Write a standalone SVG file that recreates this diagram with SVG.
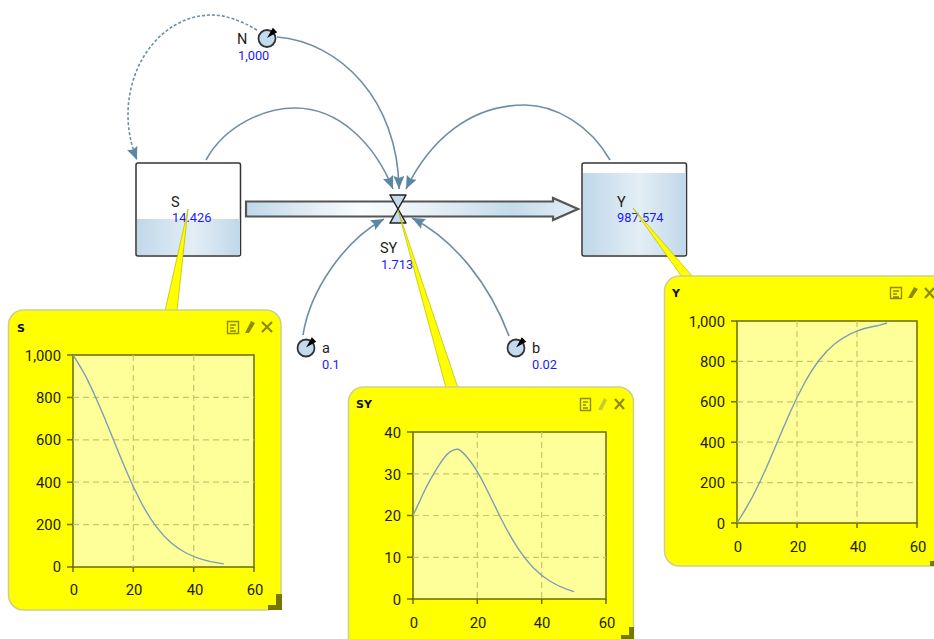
<svg xmlns="http://www.w3.org/2000/svg" width="934" height="639" viewBox="0 0 934 639">
<style>
text{font-family:Roboto,"Noto Sans",sans-serif}
.nm{font-size:14.500px;fill:#222}
.val{font-size:12.800px;fill:#1a1aff}
.tick{font-size:14.800px;fill:#1c1c00}
.ty{text-anchor:end}
.tx{text-anchor:middle}
.title{font-family:"DejaVu Sans",sans-serif;font-size:11px;font-weight:bold;fill:#111}
.win{fill:#ffff00;stroke:#cfcf90;stroke-width:1.5}
.plot{fill:#ffff99;stroke:#6b6b00;stroke-width:1.5}
.grid{stroke:#c6c670;stroke-width:1.2;stroke-dasharray:6 4;fill:none}
.axt{stroke:#6b6b00;stroke-width:1.5;fill:none}
.curve{fill:none;stroke:#7a9fb4;stroke-width:1.4;stroke-linejoin:round}
.link{fill:none;stroke:#6d8ea5;stroke-width:1.6;marker-end:url(#ah)}
.dash{stroke-dasharray:3 2}
.stock{fill:#fff;stroke:#333;stroke-width:1.5}
.call{fill:#ffff00;stroke:#b8b800;stroke-width:.7}
.icon{fill:none;stroke:#8c8c00;stroke-width:1.4}
.grip{fill:#777700}
.aux{fill:#c3dbee;stroke:#333;stroke-width:1.8}
.valve{fill:#c3dbee;stroke:#222;stroke-width:1.5;stroke-linejoin:round}
</style>
<defs>
<marker id="ah" markerUnits="userSpaceOnUse" markerWidth="14" markerHeight="12" refX="13" refY="5.500" orient="auto">
<path d="M0,0 L13,5.500 L0,11 L2,5.500 Z" fill="#5c86a3"/>
</marker>
<linearGradient id="tank" x1="0" x2="1" y1="0" y2="0">
<stop offset="0" stop-color="#c0d8e9"/><stop offset=".55" stop-color="#e3eef6"/><stop offset="1" stop-color="#c0d8e9"/>
</linearGradient>
<linearGradient id="pipe" gradientUnits="userSpaceOnUse" x1="246" x2="578" y1="0" y2="0">
<stop offset="0" stop-color="#c0d8e9"/><stop offset=".35" stop-color="#fbfdfe"/><stop offset=".52" stop-color="#eaf2f8"/><stop offset=".8" stop-color="#c4dbeb"/><stop offset="1" stop-color="#e3eef6"/>
</linearGradient>
</defs>

<g id="stock-S">
<rect class="stock" x="136" y="163" width="104.500" height="93" rx="2"/>
<rect x="137" y="219" width="103" height="36" fill="url(#tank)"/>
<text class="nm" x="171" y="207">S</text>
<text class="val" x="172" y="222">14.426</text>
</g>
<g id="stock-Y">
<rect class="stock" x="582" y="163" width="104.500" height="93" rx="2"/>
<rect x="583" y="173" width="103" height="82" fill="url(#tank)"/>
<text class="nm" x="617" y="207">Y</text>
<text class="val" x="617" y="222">987.574</text>
</g>
<g id="flow-SY">
<path d="M246,201.500 H553 V198 L578,209 L553,220 V216.500 H246 Z" fill="url(#pipe)" stroke="#555" stroke-width="2.200" stroke-linejoin="miter"/>
<path class="valve" d="M390,195 H406 L390,223 H406 Z"/>
<text class="nm" x="380" y="253">SY</text>
<text class="val" x="381" y="269">1.713</text>
</g>
<g id="connectors">
<path class="link dash" d="M257,30 C240,20 225,15 212,15 C165,15 128,60 128,115 C128,130 131,145 137,160"/>
<path class="link" d="M277,37 C340,42 398,100 399,189"/>
<path class="link" d="M206,160 C225,125 265,108 295,108 C340,108 375,145 393,189"/>
<path class="link" d="M610,160 C590,125 555,105 525,105 C470,105 430,140 406,189"/>
<path class="link" d="M303,335 C310,290 345,240 384,219"/>
<path class="link" d="M509,336 C490,285 455,240 412,218"/>
</g>
<g id="aux-N">
<circle class="aux" cx="267" cy="38.500" r="8.500"/>
<path d="M269,36 L273,29 L276,32 Z" fill="#000" stroke="#000" stroke-width="1.500"/>
<text class="nm" x="237" y="44">N</text>
<text class="val" x="238" y="60">1,000</text>
</g>
<g id="aux-a">
<circle class="aux" cx="306" cy="348" r="8.500"/>
<path d="M308,345.500 L312,338.500 L315,341.500 Z" fill="#000" stroke="#000" stroke-width="1.500"/>
<text class="nm" x="322" y="353">a</text>
<text class="val" x="322" y="369">0.1</text>
</g>
<g id="aux-b">
<circle class="aux" cx="516" cy="348" r="8.500"/>
<path d="M518,345.500 L522,338.500 L525,341.500 Z" fill="#000" stroke="#000" stroke-width="1.500"/>
<text class="nm" x="532" y="353">b</text>
<text class="val" x="532" y="369">0.02</text>
</g>

<g id="chart-S">
<path class="call" d="M188,209 L177,311 H165 Z"/>
<rect class="win" x="8.500" y="310" width="272.500" height="300" rx="15"/>
<path class="grip" d="M268,610 V605 H276 V594 H282 V610 Z"/>
<text class="title" x="17" y="332">S</text>
<path class="icon" d="M227.500,321.500 H238.500 V333.500 H227.500 Z M230,325 H236 M230,328 H234 M230,331 H236"/>
<path d="M245,333 L251,321 L255,323 L249,333 Z M252,333 H256" fill="#8c8c00"/>
<path d="M262,322 L272,332 M272,322 L262,332" stroke="#8c8c00" stroke-width="2.200" fill="none"/>
<rect class="plot" x="73" y="355" width="181" height="212"/>
<path class="grid" d="M133.300,355 V567 M193.700,355 V567 M73,397.400 H254 M73,439.800 H254 M73,482.200 H254 M73,524.600 H254"/>
<path class="axt" d="M67,355 H73 M67,397.400 H73 M67,439.800 H73 M67,482.200 H73 M67,524.600 H73 M67,567 H73 M73,567 V572 M133.300,567 V572 M193.700,567 V572 M254,567 V572"/>
<path class="curve" d="M73,355 L76.700,360.800 Q80.500,366.700 84.300,373.600 Q88.100,380.500 95.600,397.300 Q103.200,414.100 110.700,433 Q118.300,451.900 125.800,469.700 Q133.300,487.600 140.900,502 Q148.400,516.300 156,526.400 Q163.500,536.400 171,542.800 Q178.600,549.200 186.100,553 Q193.700,556.900 201.200,559.100 Q208.800,561.400 216.300,562.600 L223.800,563.900"/>
<g class="tick">
<text class="ty" x="61" y="361">1,000</text><text class="ty" x="61" y="403">800</text><text class="ty" x="61" y="445">600</text><text class="ty" x="61" y="488">400</text><text class="ty" x="61" y="530">200</text><text class="ty" x="61" y="572">0</text>
<text class="tx" x="74" y="595">0</text><text class="tx" x="134" y="595">20</text><text class="tx" x="195" y="595">40</text><text class="tx" x="255" y="595">60</text>
</g>
</g>

<g id="chart-SY">
<path class="call" d="M398,210 L458,388 H446 Z"/>
<rect class="win" x="348.500" y="387" width="285" height="270" rx="15"/>
<path class="grip" d="M621,639 V635 H629 V627 H634 V639 Z"/>
<text class="title" x="356" y="408">SY</text>
<path class="icon" d="M580.500,398.500 H590.500 V410.500 H580.500 Z M583,402 H588 M583,405 H586 M583,408 H588"/>
<path d="M598,410 L604,398 L607,400 L602,410 Z M604,410 H608" fill="#c8c840"/>
<path d="M615,399 L624,409 M624,399 L615,409" stroke="#8c8c00" stroke-width="2.200" fill="none"/>
<rect class="plot" x="413" y="432" width="193" height="167"/>
<path class="grid" d="M477.300,432 V599 M541.700,432 V599 M413,473.800 H606 M413,515.500 H606 M413,557.300 H606"/>
<path class="axt" d="M407,432 H413 M407,473.800 H413 M407,515.500 H413 M407,557.300 H413 M407,599 H413 M413,599 V604 M477.300,599 V604 M541.700,599 V604 M606,599 V604"/>
<path class="curve" d="M413,515.500 L417,507 Q421,498.400 425,489.800 Q429.100,481.300 437.100,468.100 Q445.200,455 450,451.800 Q454.800,448.700 458,449.300 Q461.300,450 469.300,460 Q477.300,470 485.300,486.500 Q493.400,503 501.400,519.200 Q509.500,535.500 517.500,547.600 Q525.600,559.800 533.600,567.900 Q541.700,576 549.700,581 Q557.800,586 565.800,588.800 L573.900,591.700"/>
<g class="tick">
<text class="ty" x="401" y="438">40</text><text class="ty" x="401" y="480">30</text><text class="ty" x="401" y="521">20</text><text class="ty" x="401" y="563">10</text><text class="ty" x="401" y="605">0</text>
<text class="tx" x="414" y="628">0</text><text class="tx" x="478" y="628">20</text><text class="tx" x="542" y="628">40</text><text class="tx" x="607" y="628">60</text>
</g>
</g>

<g id="chart-Y">
<path class="call" d="M633,208 L693,277 H682 Z"/>
<rect class="win" x="664.500" y="276" width="290" height="290" rx="15"/>
<path class="grip" d="M930,566 V561 H934 V566 Z"/>
<text class="title" x="672" y="297">Y</text>
<path class="icon" d="M890.500,287.500 H901.500 V298.500 H890.500 Z M893,291 H899 M893,294 H897 M893,297 H899"/>
<path d="M908,298 L914,287 L918,289 L912,298 Z M915,298 H919" fill="#8c8c00"/>
<path d="M925,288 L934,298 M934,288 L925,298" stroke="#8c8c00" stroke-width="2.200" fill="none"/>
<rect class="plot" x="737" y="321" width="180" height="202"/>
<path class="grid" d="M797,321 V523 M857,321 V523 M737,361.400 H917 M737,401.800 H917 M737,442.200 H917 M737,482.600 H917"/>
<path class="axt" d="M731,321 H737 M731,361.400 H737 M731,401.800 H737 M731,442.200 H737 M731,482.600 H737 M731,523 H737 M737,523 V528 M797,523 V528 M857,523 V528 M917,523 V528"/>
<path class="curve" d="M737,523 L744.500,510.900 Q752,498.700 759.500,482.700 Q767,466.700 774.500,448.700 Q782,430.700 789.500,413.700 Q797,396.600 804.500,383 Q812,369.300 819.500,359.700 Q827,350.100 834.500,344 Q842,338 849.500,334.300 Q857,330.600 864.500,328.500 Q872,326.400 879.500,325.200 L887,323"/>
<g class="tick">
<text class="ty" x="725" y="327">1,000</text><text class="ty" x="725" y="367">800</text><text class="ty" x="725" y="407">600</text><text class="ty" x="725" y="448">400</text><text class="ty" x="725" y="488">200</text><text class="ty" x="725" y="529">0</text>
<text class="tx" x="738" y="552">0</text><text class="tx" x="798" y="552">20</text><text class="tx" x="858" y="552">40</text><text class="tx" x="918" y="552">60</text>
</g>
</g>
</svg>
